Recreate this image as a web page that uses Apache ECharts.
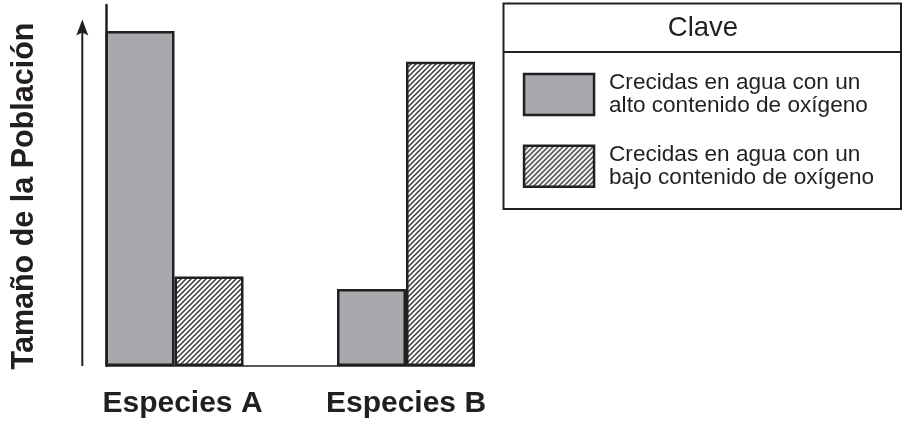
<!DOCTYPE html>
<html>
<head>
<meta charset="utf-8">
<script src="https://cdn.jsdelivr.net/npm/echarts@6/dist/echarts.min.js"></script>
<style>
html,body{margin:0;padding:0;background:#fff;}
#c{width:904px;height:423px;}
</style>
</head>
<body>
<div id="c"></div>
<script>
// ---- data ----
var categories = ['Especies A', 'Especies B'];
var seriesNames = ['Crecidas en agua con un alto contenido de oxígeno',
                   'Crecidas en agua con un bajo contenido de oxígeno'];
var legendLines = ['Crecidas en agua con un\nalto contenido de oxígeno',
                   'Crecidas en agua con un\nbajo contenido de oxígeno'];
var highOxygen = [92.8, 21.3];
var lowOxygen = [24.8, 84.3];
var yTitle = 'Tamaño de la Población';
var keyTitle = 'Clave';

// ---- styles ----
var FONT = "'Liberation Sans', Arial, Helvetica, sans-serif";
var INK = '#231f20';
var GRAY = '#a7a9ac';

function makeHatch() {
  var s = 5;
  var cv = document.createElement('canvas');
  cv.width = s; cv.height = s;
  var ctx = cv.getContext('2d');
  ctx.fillStyle = '#ffffff';
  ctx.fillRect(0, 0, s, s);
  ctx.strokeStyle = '#3a3a3a';
  ctx.lineWidth = 1.5;
  ctx.beginPath();
  ctx.moveTo(-1, s + 1); ctx.lineTo(s + 1, -1);
  ctx.moveTo(-1, 1); ctx.lineTo(1, -1);
  ctx.moveTo(s - 1, s + 1); ctx.lineTo(s + 1, s - 1);
  ctx.stroke();
  return cv;
}
var hatch = { image: makeHatch(), repeat: 'repeat' };

var chart = echarts.init(document.getElementById('c'), null, { renderer: 'canvas' });

var barStyleBase = { borderColor: INK, borderWidth: 2.5 };
var AXIS_SHIFT = 47.25;

var option = {
  animation: false,
  backgroundColor: '#ffffff',
  textStyle: { fontFamily: FONT },
  grid: { left: 58.75, right: 382.25, top: 5, bottom: 57, containLabel: false },
  legend: {
    orient: 'vertical',
    left: 522.8,
    top: 70,
    padding: 0,
    itemWidth: 70,
    itemHeight: 41,
    itemGap: 22.7,
    icon: 'rect',
    selectedMode: false,
    data: seriesNames,
    itemStyle: { borderColor: INK, borderWidth: 2.5 },
    formatter: function (name) { return legendLines[seriesNames.indexOf(name)]; },
    textStyle: { fontFamily: FONT, fontSize: 22.6, lineHeight: 22.5, color: INK, padding: [4, 0, 0, 10] }
  },
  xAxis: {
    type: 'category',
    data: categories,
    axisLine: { show: false },
    axisTick: { show: false },
    axisLabel: {
      interval: 0,
      margin: 23,
      fontFamily: FONT,
      fontSize: 30,
      fontWeight: 'bold',
      color: INK,
      formatter: function (v, i) { return i === 0 ? '{a|' + v + '}' : '{b|' + v + '}'; },
      rich: {
        a: { fontFamily: FONT, fontSize: 30, fontWeight: 'bold', color: INK, padding: [0, 0, 0, 16] },
        b: { fontFamily: FONT, fontSize: 30, fontWeight: 'bold', color: INK }
      }
    }
  },
  yAxis: {
    type: 'value',
    min: 0,
    max: 100,
    offset: -AXIS_SHIFT,
    axisLine: { show: true, lineStyle: { color: INK, width: 2.5 } },
    axisTick: { show: false },
    axisLabel: { show: false },
    splitLine: { show: false }
  },
  series: [
    {
      name: seriesNames[0],
      type: 'bar',
      data: highOxygen,
      barWidth: 69,
      barGap: '0%',
      itemStyle: Object.assign({ color: GRAY }, barStyleBase)
    },
    {
      name: seriesNames[1],
      type: 'bar',
      data: lowOxygen,
      barWidth: 69,
      barGap: '0%',
      itemStyle: Object.assign({ color: hatch }, barStyleBase)
    }
  ]
};
chart.setOption(option);

// decorations computed through the chart's own scales
var rect = chart.getModel().getComponent('grid', 0).coordinateSystem.getRect();
var baseY = chart.convertToPixel({ yAxisIndex: 0 }, 0);
var yTop = chart.convertToPixel({ yAxisIndex: 0 }, 100);
var bCenter = chart.convertToPixel({ xAxisIndex: 0 }, categories[1]);
var axisX = rect.x + AXIS_SHIFT;
var baseRight = bCenter + 69;
var arrowX = axisX - 23.7;
var arrowTip = yTop + 14.5;

chart.setOption({
  graphic: [
    { type: 'line', shape: { x1: axisX, y1: baseY, x2: baseRight, y2: baseY },
      style: { stroke: INK, lineWidth: 1.6 }, z: 1 },
    { type: 'line', shape: { x1: arrowX, y1: baseY, x2: arrowX, y2: arrowTip + 10 },
      style: { stroke: INK, lineWidth: 2 } },
    { type: 'polygon', shape: { points: [[arrowX, arrowTip], [arrowX - 6, arrowTip + 16], [arrowX, arrowTip + 13], [arrowX + 6, arrowTip + 16]] },
      style: { fill: INK } },
    { type: 'text', x: 25, y: 196, rotation: Math.PI / 2,
      style: { text: yTitle, fontFamily: FONT, fontSize: 30.5, fontWeight: 'bold', fill: INK, align: 'center', verticalAlign: 'middle' } },
    { type: 'rect', shape: { x: 503.5, y: 3.5, width: 397.5, height: 205.5 },
      style: { fill: 'none', stroke: INK, lineWidth: 2 } },
    { type: 'line', shape: { x1: 503.5, y1: 52, x2: 901, y2: 52 },
      style: { stroke: INK, lineWidth: 2 } },
    { type: 'text', x: 703, y: 28.5,
      style: { text: keyTitle, fontFamily: FONT, fontSize: 27.5, fill: INK, align: 'center', verticalAlign: 'middle' } }
  ]
});
</script>
</body>
</html>
